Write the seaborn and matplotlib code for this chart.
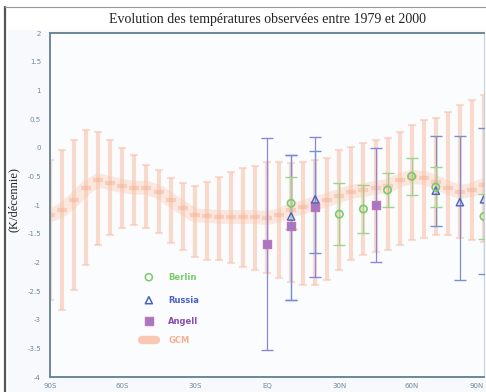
import numpy as np
import pandas as pd
import matplotlib
matplotlib.use("Agg")
import matplotlib.pyplot as plt
import seaborn as sns
from matplotlib.patches import Rectangle
from matplotlib.lines import Line2D

# --- data ---
model_lat = np.arange(-90, 91, 5)
model_mid = [-1.18, -1.09, -0.91, -0.70, -0.57, -0.62, -0.67, -0.70, -0.70, -0.77,
             -0.91, -1.05, -1.18, -1.19, -1.21, -1.21, -1.21, -1.21, -1.23, -1.18,
             -1.09, -1.04, -0.97, -0.91, -0.84, -0.77, -0.74, -0.70, -0.67, -0.57,
             -0.51, -0.53, -0.60, -0.70, -0.77, -0.74, -0.65]
model_hi = [-0.22, -0.04, 0.13, 0.31, 0.27, 0.13, 0.00, -0.13, -0.30, -0.39,
            -0.53, -0.62, -0.67, -0.60, -0.51, -0.43, -0.36, -0.32, -0.25, -0.25,
            -0.27, -0.25, -0.22, -0.18, -0.04, 0.01, 0.08, 0.13, 0.17, 0.27,
            0.39, 0.48, 0.52, 0.62, 0.74, 0.83, 0.92]
model_lo = [-2.66, -2.83, -2.49, -2.05, -1.70, -1.53, -1.40, -1.35, -1.40, -1.49,
            -1.66, -1.79, -1.91, -1.96, -1.96, -2.01, -2.08, -2.14, -2.19, -2.28,
            -2.35, -2.40, -2.40, -2.31, -2.14, -1.96, -1.87, -1.82, -1.79, -1.70,
            -1.61, -1.58, -1.53, -1.53, -1.58, -1.61, -1.65]

berlin_lat = [10, 30, 40, 50, 60, 70, 90]
berlin_val = [-0.97, -1.16, -1.07, -0.74, -0.50, -0.69, -1.20]
berlin_err = [0.45, 0.54, 0.42, 0.30, 0.32, 0.35, 0.40]

russia_lat = [10, 20, 70, 80, 90]
russia_val = [-1.20, -0.90, -0.75, -0.95, -0.90]
russia_lo = [-2.66, -1.83, -1.37, -2.30, -2.20]
russia_hi = [-0.13, -0.05, 0.20, 0.20, 0.35]

angell_lat = [0, 10, 20, 45]
angell_val = [-1.68, -1.37, -1.04, -1.00]
angell_lo = [-3.53, -2.66, -2.26, -2.00]
angell_hi = [0.17, -0.13, 0.18, 0.00]

yticks = np.arange(-4, 2.01, 0.5)
xticks = [-90, -60, -30, 0, 30, 60, 90]
xlabels = ["90S", "60S", "30S", "EQ", "30N", "60N", "90N"]

ORANGE = "#f9c3aa"
GREEN = "#7cc96a"
BLUE = "#4a62c8"
PURPLE = "#8a4fb0"

sns.set_theme(style="white")
plt.rcParams['font.family'] = ['DejaVu Sans']

fig = plt.figure(figsize=(4.86, 3.92), dpi=100)
fig.patch.set_facecolor("white")
# scanned panel background + frame
fig.add_artist(Rectangle((8 / 486, 0), 1, 1 - 30 / 392, transform=fig.transFigure,
                         facecolor="#f7f9fc", edgecolor="none", zorder=0))
fig.add_artist(Line2D([5 / 486, 5 / 486], [0, 1 - 7 / 392], transform=fig.transFigure,
                      color="#555555", lw=1.6))
fig.add_artist(Line2D([5 / 486, 1], [1 - 7 / 392, 1 - 7 / 392], transform=fig.transFigure,
                      color="#999999", lw=0.8))

ax = fig.add_axes([50 / 486, 1 - 377 / 392, 434 / 486, 344 / 392])
ax.set_facecolor("#fbfcfe")

df_model = pd.DataFrame({"lat": model_lat, "mid": model_mid, "lo": model_lo, "hi": model_hi})

# model ensemble: soft band plus vertical ranges
sns.lineplot(data=df_model, x="lat", y="mid", ax=ax, color=ORANGE, lw=10, alpha=0.35, zorder=1)
ax.vlines(df_model["lat"], df_model["lo"], df_model["hi"], color=ORANGE, lw=3, alpha=0.6, zorder=1)
ax.scatter(df_model["lat"], df_model["hi"], marker="_", s=35, color=ORANGE, alpha=0.55, zorder=1)
ax.scatter(df_model["lat"], df_model["lo"], marker="_", s=35, color=ORANGE, alpha=0.55, zorder=1)
ax.scatter(df_model["lat"], df_model["mid"], marker="_", s=60, linewidths=3, color="#f6ad8e",
           alpha=0.45, zorder=1)

# observations
ax.errorbar(angell_lat, angell_val,
            yerr=[np.array(angell_val) - np.array(angell_lo), np.array(angell_hi) - np.array(angell_val)],
            fmt="none", ecolor="#8a86dc", elinewidth=0.9, capsize=4, zorder=3)
ax.errorbar(russia_lat, russia_val,
            yerr=[np.array(russia_val) - np.array(russia_lo), np.array(russia_hi) - np.array(russia_val)],
            fmt="none", ecolor="#7890d2", elinewidth=0.9, capsize=4, zorder=3)
ax.errorbar(berlin_lat, berlin_val, yerr=berlin_err,
            fmt="none", ecolor="#9bd58a", elinewidth=0.9, capsize=4, zorder=3)

sns.scatterplot(x=angell_lat, y=angell_val, ax=ax, marker="s", s=38, color="#a07ac4",
                edgecolor="#c870b4", linewidth=1, zorder=4)
sns.scatterplot(x=russia_lat, y=russia_val, ax=ax, marker="^", s=28, facecolor="none",
                edgecolor=BLUE, linewidth=1, zorder=4)
sns.scatterplot(x=berlin_lat, y=berlin_val, ax=ax, marker="o", s=28, facecolor="none",
                edgecolor=GREEN, linewidth=1.2, zorder=5)

# legend drawn like the original (marker + coloured word)
leg_items = [("o", GREEN, "Berlin", -2.26), ("^", BLUE, "Russia", -2.66), ("s", PURPLE, "Angell", -3.03)]
for mk, col, lab, yv in leg_items:
    if mk == "s":
        ax.scatter([-49], [yv], marker=mk, s=36, color="#a07ac4", edgecolor="#c870b4", zorder=4)
    else:
        ax.scatter([-49], [yv], marker=mk, s=26, facecolor="none", edgecolor=col, linewidth=1.1, zorder=4)
    ax.text(-41, yv, lab, color=col, fontsize=6, fontweight="bold", va="center", ha="left")
ax.plot([-52, -46], [-3.36, -3.36], color=ORANGE, lw=6, solid_capstyle="round", alpha=0.9)
ax.text(-41, -3.36, "GCM", color="#f7b090", fontsize=6, fontweight="bold", va="center", ha="left")

ax.set_xlim(-90, 90)
ax.set_ylim(-4, 2)
ax.set_xticks(xticks)
ax.set_xticklabels(xlabels)
ax.set_yticks(yticks)
ax.set_yticklabels([f"{v:g}" for v in yticks])
ax.tick_params(axis="both", labelsize=5, colors="#6d8aa2", length=3, width=0.8, direction="out")
ax.tick_params(axis="x", pad=1)
ax.get_xticklabels()[-1].set_ha("right")
ax.set_xlabel("")
ax.set_ylabel("")
for side in ["left", "bottom", "top"]:
    ax.spines[side].set_color("#6e8798")
    ax.spines[side].set_linewidth(1.4)
ax.spines["right"].set_color("#c8d4dc")
ax.spines["right"].set_linewidth(0.8)

fig.text(267 / 486, 1 - 20 / 392, "Evolution des températures observées entre 1979 et 2000",
         ha="center", va="center", fontsize=10, family=["Liberation Serif", "DejaVu Serif"], color="#222222")
fig.text(14 / 486, 1 - 200 / 392, "(K/décennie)", rotation=90, ha="center", va="center",
         fontsize=9, family=["Liberation Serif", "DejaVu Serif"], color="#222222")

fig.savefig("out.png", dpi=100)
